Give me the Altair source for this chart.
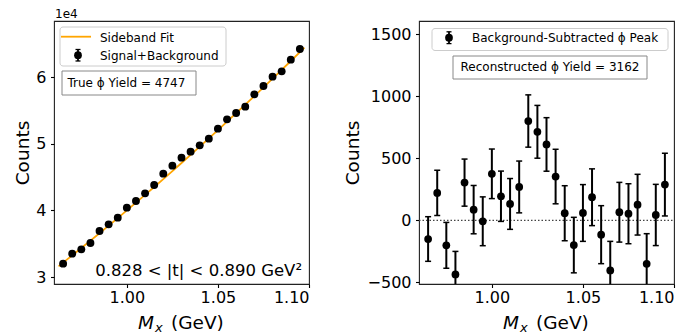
import altair as alt
import pandas as pd

# ---- data ----
x_centers = [0.965, 0.970, 0.975, 0.980, 0.985, 0.990, 0.995, 1.000, 1.005, 1.010,
             1.015, 1.020, 1.025, 1.030, 1.035, 1.040, 1.045, 1.050, 1.055, 1.060,
             1.065, 1.070, 1.075, 1.080, 1.085, 1.090, 1.095]
sig_bkg = [32000, 33500, 34150, 35100, 36900, 37900, 38900, 40400, 41400, 42550,
           43800, 45500, 46700, 47900, 48800, 49750, 50750, 52250, 53650, 54600,
           55550, 57400, 58650, 60050, 60850, 62600, 64200]
fit_x = [0.9625, 0.965, 0.970, 0.975, 0.980, 0.985, 0.990, 0.995, 1.000, 1.005, 1.010,
         1.015, 1.020, 1.025, 1.030, 1.035, 1.040, 1.045, 1.050, 1.055, 1.060,
         1.065, 1.070, 1.075, 1.080, 1.085, 1.090, 1.095, 1.0975]
fit_y = [31600, 32150, 33240, 34340, 35450, 36570, 37700, 38840, 39990, 41150, 42320,
         43500, 44690, 45890, 47100, 48320, 49550, 50790, 52040, 53300, 54570,
         55850, 57140, 58440, 59750, 61070, 62400, 63740, 64420]
subtracted = [-151, 221, -202, -437, 304, 86, -8, 375, 194, 132,
              269, 801, 714, 612, 353, 57, -200, 59, 186, -116,
              -405, 65, 53, 126, -351, 43, 288]
sub_err = [180, 183, 185, 186, 190, 195, 197, 200, 203, 205,
           209, 211, 213, 216, 220, 222, 224, 229, 229, 234,
           235, 241, 242, 245, 243, 247, 253]

x_ticks = [1.00, 1.05, 1.10]
left_y_ticks = [30000, 40000, 50000, 60000]
right_y_ticks = [-500, 0, 500, 1000, 1500]

W, H = 255, 263
FONT = "DejaVu Sans"

pts = pd.DataFrame({"x": x_centers, "y": sig_bkg})
fit = pd.DataFrame({"x": fit_x, "y": fit_y})
sub = pd.DataFrame({"x": x_centers, "y": subtracted, "e": sub_err})
sub["lo"] = sub["y"] - sub["e"]
sub["hi"] = sub["y"] + sub["e"]
one = pd.DataFrame({"a": [0]})

xscale = alt.Scale(domain=[0.96, 1.10], nice=False, zero=False)
xaxis = alt.Axis(values=x_ticks, format=".2f", title=None)


def txt(s, x, y, size=12, align="left", baseline="alphabetic", style="normal"):
    return alt.Chart(one).mark_text(
        text=s, align=align, baseline=baseline, font=FONT, fontSize=size,
        fontStyle=style, color="black"
    ).encode(x=alt.value(x), y=alt.value(y))


def box(x1, x2, y1, y2, stroke, radius=0):
    return alt.Chart(one).mark_rect(
        fill="white", fillOpacity=0.85, stroke=stroke, strokeWidth=1,
        cornerRadius=radius
    ).encode(x=alt.value(x1), x2=alt.value(x2), y=alt.value(y1), y2=alt.value(y2))


def hline(x1, x2, y, color="black", width=1.5, opacity=1):
    return alt.Chart(one).mark_rule(color=color, strokeWidth=width, strokeOpacity=opacity).encode(
        x=alt.value(x1), x2=alt.value(x2), y=alt.value(y))


def vline(x, y1, y2, width=2):
    return alt.Chart(one).mark_rule(color="black", strokeWidth=width).encode(
        x=alt.value(x), y=alt.value(y1), y2=alt.value(y2))


def dot(x, y):
    return alt.Chart(one).mark_point(filled=True, size=60, color="black", opacity=1).encode(
        x=alt.value(x), y=alt.value(y))


def xlabel():
    return [
        txt("M", 84, 308, size=18.5, style="italic"),
        txt("x", 101, 311, size=13, style="italic"),
        txt("(GeV)", 117, 308, size=18.5),
    ]


# ---------------- left panel ----------------
lscale = alt.Scale(domain=[28950, 68400], nice=False, zero=False)
laxis = alt.Axis(values=left_y_ticks, labelExpr="format(datum.value/10000, 'd')",
                 title="Counts", titleX=-26, titleY=H / 2, titleAngle=270,
                 titleBaseline="alphabetic", titleAlign="center")

fit_line = alt.Chart(fit).mark_line(color="#FFA500", strokeWidth=1.8, clip=True).encode(
    x=alt.X("x:Q", scale=xscale, axis=xaxis),
    y=alt.Y("y:Q", scale=lscale, axis=laxis))
left_pts = alt.Chart(pts).mark_point(filled=True, size=62, color="black", opacity=1, clip=True).encode(
    x=alt.X("x:Q", scale=xscale, axis=xaxis),
    y=alt.Y("y:Q", scale=lscale, axis=laxis))

left_layers = [
    # transparent anchor fixing the top-left extent of the whole figure
    hline(-53, -52, -20, width=0.01, opacity=0),
    fit_line, left_pts,
    box(6, 172, 6, 45, "#cccccc", radius=3),
    hline(7, 37, 15.7, color="#FFA500", width=1.8),
    txt("Sideband Fit", 46, 20.5),
    vline(24, 28.5, 40, width=1.8),
    hline(21.5, 26.5, 28.5, width=1.3),
    hline(21.5, 26.5, 40, width=1.3),
    dot(24, 34.2),
    txt("Signal+Background", 46, 38.5),
    box(8, 142, 50, 74, "#888888"),
    txt("True ϕ Yield = 4747", 13.5, 66),
    txt("0.828 < |t| < 0.890 GeV²", 248, 255, size=16.5, align="right"),
    txt("1e4", 1, -3, size=12),
] + xlabel()

left = alt.layer(*left_layers).properties(width=W, height=H)

# ---------------- right panel ----------------
rscale = alt.Scale(domain=[-514, 1608], nice=False, zero=False)
raxis = alt.Axis(values=right_y_ticks,
                 labelExpr="datum.value < 0 ? '\u2212' + format(-datum.value, 'd') : format(datum.value, 'd')",
                 title="Counts", titleX=-61, titleY=H / 2, titleAngle=270,
                 titleBaseline="alphabetic", titleAlign="center")

zero_line = alt.Chart(one).mark_rule(color="#444444", strokeWidth=1.2, strokeDash=[1.5, 2]).encode(
    x=alt.value(0), x2=alt.value(W), y=alt.datum(0, scale=rscale))
bars = alt.Chart(sub).mark_rule(color="black", strokeWidth=2, clip=True).encode(
    x=alt.X("x:Q", scale=xscale, axis=xaxis),
    y=alt.Y("lo:Q", scale=rscale, axis=raxis), y2="hi:Q")
cap_lo = alt.Chart(sub).mark_tick(orient="horizontal", size=6, thickness=1.5, color="black",
                                  opacity=1, clip=True).encode(
    x=alt.X("x:Q", scale=xscale), y=alt.Y("lo:Q", scale=rscale))
cap_hi = alt.Chart(sub).mark_tick(orient="horizontal", size=6, thickness=1.5, color="black",
                                  opacity=1, clip=True).encode(
    x=alt.X("x:Q", scale=xscale), y=alt.Y("hi:Q", scale=rscale))
right_pts = alt.Chart(sub).mark_point(filled=True, size=60, color="black", opacity=1, clip=True).encode(
    x=alt.X("x:Q", scale=xscale), y=alt.Y("y:Q", scale=rscale))

right_layers = [
    zero_line, bars, cap_lo, cap_hi, right_pts,
    box(13, 249, 7.5, 29.5, "#cccccc", radius=3),
    vline(30, 10.8, 22.6, width=1.8),
    hline(27.5, 32.5, 10.8, width=1.3),
    hline(27.5, 32.5, 22.6, width=1.3),
    dot(30, 16.7),
    txt("Background-Subtracted ϕ Peak", 53, 21),
    box(34, 228, 35, 58, "#888888"),
    txt("Reconstructed ϕ Yield = 3162", 131, 50, align="center"),
] + xlabel()

right = alt.layer(*right_layers).properties(width=W, height=H)

chart = alt.hconcat(left, right, spacing=110, bounds="flush").properties(
    padding=0,
).configure(font=FONT).configure_view(
    stroke="#222222", strokeWidth=1.1
).configure_axis(
    grid=False, domain=False, labelFont=FONT, labelFontSize=16, labelColor="black",
    tickColor="black", tickSize=3.5, tickWidth=1.1,
    titleFont=FONT, titleFontSize=18.5, titleFontWeight="normal", titleColor="black",
).configure_axisX(labelPadding=2).configure_axisY(labelPadding=4.5)

chart.save("out.html", embed_options={"renderer": "svg", "actions": False})
